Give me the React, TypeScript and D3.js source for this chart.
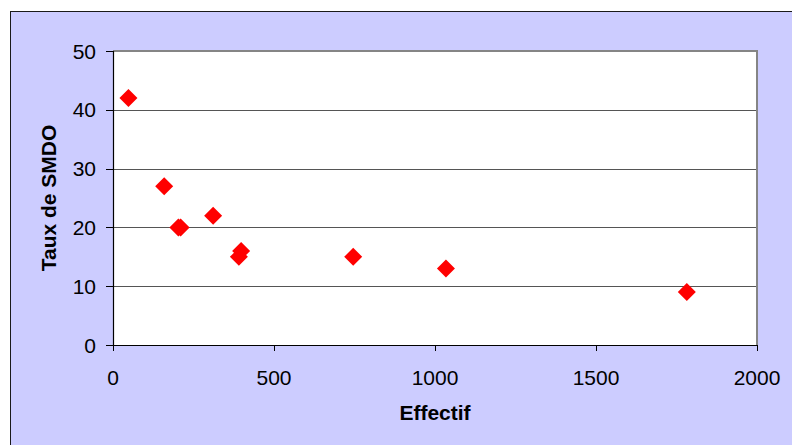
import React from "react";
import * as d3 from "d3";

const effectif = [48, 159, 203, 210, 311, 391, 398, 746, 1034, 1782];
const taux = [42, 27, 20, 20, 22, 15, 16, 15, 13, 9];
const xTicks = [0, 500, 1000, 1500, 2000];
const yTicks = [0, 10, 20, 30, 40, 50];
const xTitle = "Effectif";
const yTitle = "Taux de SMDO";

const W = 792;
const H = 445;
const plot = { left: 113, top: 51, right: 757, bottom: 345 };
const font = "'Liberation Sans', Arial, Helvetica, sans-serif";

export default function App() {
  const x = d3.scaleLinear().domain([0, 2000]).range([plot.left, plot.right]);
  const y = d3.scaleLinear().domain([0, 50]).range([plot.bottom, plot.top]);
  const diamond = (cx: number, cy: number, r: number) =>
    `M${cx},${cy - r}L${cx + r},${cy}L${cx},${cy + r}L${cx - r},${cy}Z`;

  return (
    <svg
      width={W}
      height={H}
      style={{ position: "absolute", left: 0, top: 0, display: "block" }}
      fontFamily={font}
    >
      <rect x={0} y={0} width={W} height={H} fill="#ffffff" />
      <rect x={10.5} y={11.5} width={W + 20} height={H + 20} fill="#CCCCFF" stroke="#1a1a1a" strokeWidth={1} />
      <rect
        x={plot.left}
        y={plot.top}
        width={plot.right - plot.left}
        height={plot.bottom - plot.top}
        fill="#ffffff"
      />
      {yTicks
        .filter((t) => t > 0 && t < 50)
        .map((t) => (
          <line key={"g" + t} x1={plot.left} x2={plot.right} y1={Math.round(y(t)) + 0.5} y2={Math.round(y(t)) + 0.5} stroke="#555555" strokeWidth={1} />
        ))}
      <path
        d={`M${plot.left},${plot.top}L${plot.right},${plot.top}L${plot.right},${plot.bottom}`}
        fill="none"
        stroke="#858585"
        strokeWidth={2}
      />
      <line x1={plot.left + 0.5} x2={plot.left + 0.5} y1={plot.top} y2={plot.bottom} stroke="#000" strokeWidth={1.2} />
      <line x1={plot.left} x2={plot.right} y1={plot.bottom + 0.5} y2={plot.bottom + 0.5} stroke="#000" strokeWidth={1.2} />
      {yTicks.map((t) => (
        <g key={"y" + t}>
          <line x1={plot.left - 7} x2={plot.left} y1={Math.round(y(t)) + 0.5} y2={Math.round(y(t)) + 0.5} stroke="#000" strokeWidth={1} />
          <text x={96} y={y(t)} textAnchor="end" dominantBaseline="central" fontSize={21} fill="#000">
            {t}
          </text>
        </g>
      ))}
      {xTicks.map((t) => (
        <g key={"x" + t}>
          <line x1={Math.round(x(t)) + 0.5} x2={Math.round(x(t)) + 0.5} y1={plot.bottom} y2={plot.bottom + 6} stroke="#000" strokeWidth={1} />
          <text x={x(t)} y={377} textAnchor="middle" dominantBaseline="central" fontSize={21} fill="#000">
            {t}
          </text>
        </g>
      ))}
      <text x={(plot.left + plot.right) / 2} y={412} textAnchor="middle" dominantBaseline="central" fontSize={21} fontWeight="bold" fill="#000">
        {xTitle}
      </text>
      <text
        transform={`translate(48,${(plot.top + plot.bottom) / 2}) rotate(-90)`}
        textAnchor="middle"
        dominantBaseline="central"
        fontSize={21}
        fontWeight="bold"
        fill="#000"
      >
        {yTitle}
      </text>
      {effectif.map((v, i) => (
        <path key={"p" + i} d={diamond(x(v), y(taux[i]), 9)} fill="#FF0000" />
      ))}
    </svg>
  );
}
